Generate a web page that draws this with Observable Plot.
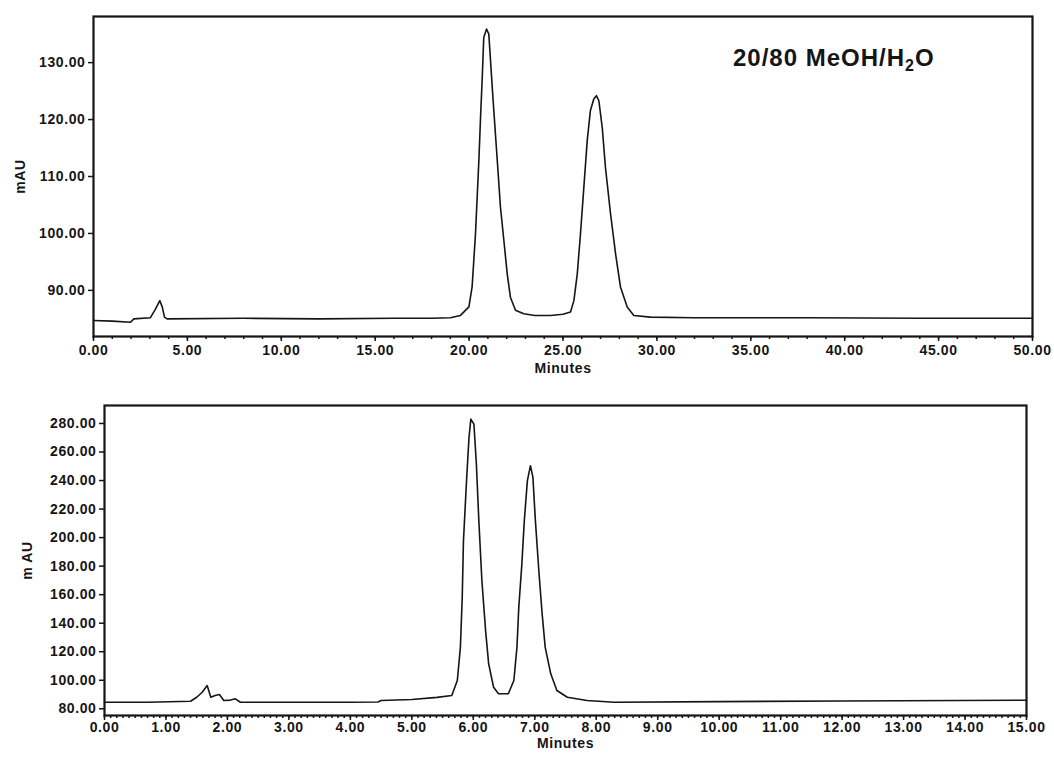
<!DOCTYPE html>
<html>
<head>
<meta charset="utf-8">
<script src="https://cdn.jsdelivr.net/npm/d3@7"></script>
<script src="https://cdn.jsdelivr.net/npm/@observablehq/plot@0.6"></script>
<style>
  body { margin: 0; background: #fff; }
  #chart svg { display: block; }
</style>
</head>
<body>
<div id="chart"></div>
<script>
// ---- Top chromatogram: 20/80 MeOH/H2O (time in minutes, absorbance in mAU)
const meohTime = [0, 1.0, 1.97, 2.15, 3.03, 3.30, 3.53, 3.66, 3.78, 3.92, 8, 12, 16, 18, 19.0,
  19.54, 19.99, 20.16, 20.34, 20.52, 20.61, 20.70, 20.78, 20.93, 21.05, 21.14, 21.28, 21.50,
  21.67, 21.85, 22.03, 22.20, 22.47, 22.91, 23.5, 24.33, 25.0, 25.40, 25.58, 25.76, 25.93,
  26.11, 26.29, 26.46, 26.64, 26.78, 26.91, 27.09, 27.26, 27.53, 27.80, 28.06, 28.42, 28.77,
  29.66, 32, 38, 44, 50];
const meohMAU = [84.7, 84.6, 84.4, 85.0, 85.2, 86.7, 88.2, 87.1, 85.3, 85.0, 85.1, 85.0, 85.1, 85.1, 85.2,
  85.6, 87.1, 90.6, 99.9, 112.8, 120.4, 127.4, 134.4, 135.9, 135.0, 130.4, 123.3, 112.8,
  104.6, 98.8, 92.9, 88.8, 86.5, 85.9, 85.6, 85.6, 85.8, 86.2, 88.2, 92.9, 99.9,
  108.1, 116.3, 121.6, 123.6, 124.2, 123.3, 118.6, 111.6, 103.5, 96.4, 90.6, 87.1, 85.6,
  85.3, 85.2, 85.2, 85.1, 85.1];
const meohXTicks = [0, 5, 10, 15, 20, 25, 30, 35, 40, 45, 50];
const meohYTicks = [90, 100, 110, 120, 130];
const meohLabel = ["20/80 MeOH/H", "2", "O"];

// ---- Bottom chromatogram: 20/80 MeCN/H2O
const mecnTime = [0, 0.7, 1.40, 1.50, 1.59, 1.67, 1.73, 1.80, 1.87, 1.94, 2.05, 2.13, 2.21, 3.0, 4.0,
  4.45, 4.5, 5.0, 5.41, 5.65, 5.74, 5.79, 5.82, 5.84, 5.89, 5.93, 5.96, 6.01, 6.05, 6.09, 6.14,
  6.20, 6.25, 6.33, 6.41, 6.57, 6.66, 6.71, 6.74, 6.79, 6.83, 6.88, 6.93, 6.97, 7.01, 7.07,
  7.12, 7.17, 7.26, 7.36, 7.53, 7.85, 8.29, 10, 12, 15];
const mecnMAU = [84.6, 84.6, 85.3, 88.1, 91.6, 96.3, 88.1, 89.3, 90.0, 85.8, 86.1, 87.0, 84.6, 84.6, 84.6,
  84.8, 85.8, 86.5, 88.0, 89.3, 99.8, 123.1, 158.2, 197.9, 239.9, 270.2, 283.1, 279.6, 251.6, 211.9, 169.8,
  134.8, 111.5, 95.1, 90.5, 90.5, 99.8, 123.1, 151.1, 181.5, 211.9, 239.9, 250.4, 242.2, 211.9, 174.5,
  146.5, 123.1, 104.5, 92.8, 88.1, 85.8, 84.6, 85.0, 85.5, 86.0];
const mecnXTicks = [0, 1, 2, 3, 4, 5, 6, 7, 8, 9, 10, 11, 12, 13, 14, 15];
const mecnYTicks = [80, 100, 120, 140, 160, 180, 200, 220, 240, 260, 280];
const mecnLabel = ["20/80 MeCN/H", "2", "O"];

const fmt = d => d.toFixed(2);
const FONT = "'Liberation Sans', Arial, Helvetica, sans-serif";
const INK = "#151515";

function chromatogram(cfg) {
  const data = cfg.time.map((t, i) => ({t, v: cfg.mau[i]}));
  const svg = Plot.plot({
    width: 1054,
    height: cfg.height,
    marginLeft: cfg.ml, marginRight: cfg.mr, marginTop: cfg.mt, marginBottom: cfg.mb,
    style: {fontFamily: FONT, fontSize: "14px", fontWeight: "bold", color: INK, background: "#fff", letterSpacing: "0.6px"},
    x: {domain: cfg.xDomain, label: null},
    y: {domain: cfg.yDomain, label: null},
    marks: [
      Plot.axisX({ticks: cfg.xMinor, tickSize: 3, tickFormat: () => null, label: null, strokeWidth: 1.5}),
      Plot.axisX({ticks: cfg.xTicks, tickSize: 5, tickPadding: cfg.xPad, tickFormat: fmt,
        label: "Minutes", labelAnchor: "center", labelArrow: "none", labelOffset: cfg.xLabelOffset, strokeWidth: 1.5}),
      Plot.axisY({ticks: cfg.yTicks, tickSize: 5, tickPadding: 3, tickFormat: fmt,
        label: cfg.yLabel, labelAnchor: "center", labelArrow: "none", labelOffset: cfg.yLabelOffset, strokeWidth: 1.5}),
      Plot.frame({stroke: INK, strokeWidth: 2.2}),
      Plot.line(data, {x: "t", y: "v", stroke: INK, strokeWidth: 1.6, curve: "linear"})
    ]
  });
  const txt = d3.select(svg).append("text")
    .attr("x", cfg.labelX).attr("y", cfg.labelY)
    .attr("text-anchor", "start")
    .attr("font-family", FONT).attr("font-weight", "bold")
    .attr("font-size", 24).attr("letter-spacing", cfg.spacing).attr("fill", INK);
  txt.append("tspan").text(cfg.label[0]);
  txt.append("tspan").attr("font-size", 16).attr("dy", 5).text(cfg.label[1]);
  txt.append("tspan").attr("dy", -5).text(cfg.label[2]);
  return svg;
}

const chart = document.getElementById("chart");
chart.append(chromatogram({
  time: meohTime, mau: meohMAU, height: 378,
  ml: 93, mr: 22, mt: 16, mb: 42,
  xDomain: [0, 50], yDomain: [81.9, 138.1],
  xTicks: meohXTicks, xMinor: d3.range(0, 51, 1), yTicks: meohYTicks,
  xPad: 4, xLabelOffset: 36, yLabel: "mAU", yLabelOffset: 78,
  label: meohLabel, labelX: 733, labelY: 66, spacing: 1
}));
chart.append(chromatogram({
  time: mecnTime, mau: mecnMAU, height: 380,
  ml: 104, mr: 28, mt: 27, mb: 43,
  xDomain: [0, 15], yDomain: [75.3, 292.6],
  xTicks: mecnXTicks, xMinor: d3.range(0, 15.01, 0.1), yTicks: mecnYTicks,
  xPad: 2, xLabelOffset: 32, yLabel: "m AU", yLabelOffset: 82,
  label: mecnLabel, labelX: 713, labelY: 470, spacing: 2
}));
</script>
</body>
</html>
